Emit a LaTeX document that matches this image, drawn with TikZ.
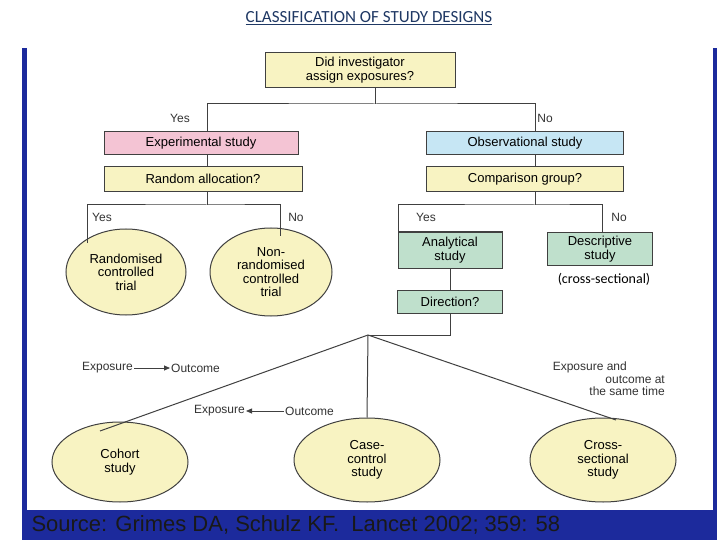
\documentclass[tikz,border=0pt]{standalone}
\usepackage{fontspec}
\setmainfont{Liberation Sans}
\newfontfamily\calfont{Carlito}
\usetikzlibrary{arrows.meta,positioning,shapes.geometric}
\definecolor{PanelBlue}{HTML}{1c2a9c}
\definecolor{TitleBlue}{HTML}{1f3864}
\definecolor{BoxYellow}{HTML}{f8f3c2}
\definecolor{BoxPink}{HTML}{f4c4d4}
\definecolor{BoxCyan}{HTML}{c6e6f4}
\definecolor{BoxGreen}{HTML}{bfe0cc}
\definecolor{LineGray}{HTML}{404040}
\begin{document}
\begin{tikzpicture}[x=1pt,y=-1pt,
    qbox/.style={draw=LineGray,line width=1pt,fill=BoxYellow,
                 font=\fontsize{13}{13.5}\selectfont,
                 inner sep=2pt,align=center},
    studyell/.style={ellipse,draw=LineGray,line width=1pt,fill=BoxYellow,
                 font=\fontsize{13}{13.5}\selectfont,align=center,inner sep=0pt},
    branch/.style={LineGray,line width=1pt},
    tag/.style={font=\fontsize{12}{12.5}\selectfont,inner sep=1pt,text=black!80}]
  \useasboundingbox (0,0) rectangle (720,540);
  \fill[white] (0,0) rectangle (720,540);
  % frame
  \fill[PanelBlue] (22,48) rectangle (717,540);
  \fill[white] (27,48) rectangle (713,510);
  \node[TitleBlue,font=\calfont\fontsize{17}{18}\selectfont] (title) at (369,18)
       {\underline{CLASSIFICATION OF STUDY DESIGNS}};
  \begin{scope}
    \clip (22,510) rectangle (717,540);
    \node[anchor=west,font=\fontsize{22}{22}\selectfont,text=black!90] (src) at (28,525)
         {Source: Grimes DA, Schulz KF.\ \ Lancet 2002; 359: 58};
  \end{scope}
  % boxes
  \node[qbox,minimum width=190pt,minimum height=35pt] (assign) at (360,70)
       {Did investigator\\assign exposures?};
  \node[qbox,fill=BoxPink,minimum width=194pt,minimum height=23pt] (expt) at (201,143)
       {Experimental study};
  \node[qbox,fill=BoxCyan,minimum width=197pt,minimum height=23pt] (obs) at (525,143)
       {Observational study};
  \node[qbox,minimum width=198pt,minimum height=25pt] (rand) at (203,179)
       {Random allocation?};
  \node[qbox,minimum width=197pt,minimum height=25pt] (comp) at (525,179)
       {Comparison group?};
  \node[studyell,minimum width=120pt,minimum height=86pt] (rct) at (126,272)
       {Randomised\\controlled\\trial};
  \node[studyell,minimum width=122pt,minimum height=88pt] (nrct) at (271,272)
       {Non-\\randomised\\controlled\\trial};
  \node[qbox,fill=BoxGreen,minimum width=104pt,minimum height=36pt] (anal) at (450,250)
       {Analytical\\study};
  \node[qbox,fill=BoxGreen,minimum width=105pt,minimum height=33pt] (desc) at (600,249)
       {Descriptive\\study};
  \node[font=\calfont\fontsize{14}{14}\selectfont] (xsnote) at (604,279) {(cross-sectional)};
  \node[qbox,fill=BoxGreen,minimum width=105pt,minimum height=23pt] (dir) at (450,302)
       {Direction?};
  \node[studyell,minimum width=136pt,minimum height=80pt] (cohort) at (120,462)
       {Cohort\\study};
  \node[studyell,minimum width=146pt,minimum height=84pt] (cc) at (367,460)
       {Case-\\control\\study};
  \node[studyell,minimum width=146pt,minimum height=84pt] (xs) at (603,460)
       {Cross-\\sectional\\study};
  % connectors
  \coordinate (top) at (375,104);
  \coordinate (left) at (207,179);
  \coordinate (right) at (535,179);
  \coordinate (apex) at (368,335);
  \draw[branch] (assign.south -| top) -- (top);
  \draw[branch] (expt.north -| left) |- (top) -| (obs.north -| right);
  \draw[branch] (expt.south -| left) -- (rand.north -| left);
  \draw[branch] (obs.south -| right) -- (comp.north -| right);
  \draw[branch] (rand.south -| left) -- (207,205);
  \draw[branch] (87,243) |- (207,205) -| (280,236);
  \draw[branch] (comp.south -| right) -- (535,205);
  \draw[branch] (anal.north -| 398,0) |- (535,205) -| (desc.north -| 602,0);
  \draw[branch] (anal) -- (dir);
  \draw[branch] (dir.south) |- (apex);
  \draw[branch] (apex) -- (100,431);
  \draw[branch] (apex) -- (cc.north);
  \draw[branch] (apex) -- (616,420);
  % labels
  \node[tag] (yesA) at (180,118) {Yes};
  \node[tag] (noA) at (545,118) {No};
  \node[tag] (yesB) at (102,217) {Yes};
  \node[tag] (noB) at (296,217) {No};
  \node[tag] (yesC) at (426,217) {Yes};
  \node[tag] (noC) at (619,217) {No};
  \node[tag,anchor=east] (expo1) at (134,368) {Exposure};
  \node[tag,anchor=west] (out1) at (170,368) {Outcome};
  \draw[-{Triangle[length=6pt,width=5pt]},LineGray,line width=0.8pt] (expo1) -- (out1);
  \node[tag,anchor=east] (expo2) at (246,411) {Exposure};
  \node[tag,anchor=west] (out2) at (284,411) {Outcome};
  \draw[-{Triangle[length=6pt,width=5pt]},LineGray,line width=0.8pt] (out2) -- (expo2);
  \node[tag,align=right,anchor=north east] (same) at (666,361)
       {Exposure and\hspace*{38pt}\\outcome at\hspace*{12pt}\\the same time};
\end{tikzpicture}
\end{document}
